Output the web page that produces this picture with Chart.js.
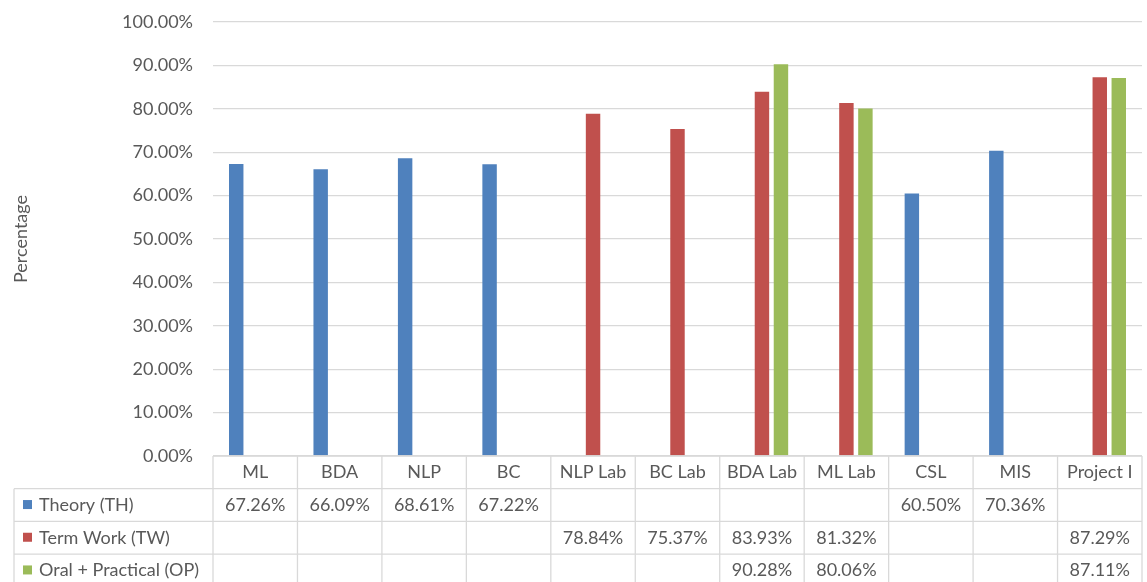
<!DOCTYPE html>
<html>
<head>
<meta charset="utf-8">
<script src="https://cdn.jsdelivr.net/npm/chart.js@4.4.1/dist/chart.umd.min.js"></script>
<style>
    html, body { margin: 0; padding: 0; background: #fff; }
    #wrap { width: 1147px; height: 582px; }
</style>
</head>
<body>
<div id="wrap"><canvas id="chart"></canvas></div>
<script>
const subjects = ["ML", "BDA", "NLP", "BC", "NLP Lab", "BC Lab", "BDA Lab", "ML Lab", "CSL", "MIS", "Project I"];
const theory = [0.6726, 0.6609, 0.6861, 0.6722, null, null, null, null, 0.6050, 0.7036, null];
const termWork = [null, null, null, null, 0.7884, 0.7537, 0.8393, 0.8132, null, null, 0.8729];
const oralPractical = [null, null, null, null, null, null, 0.9028, 0.8006, null, null, 0.8711];
const seriesNames = ["Theory (TH)", "Term Work (TW)", "Oral + Practical (OP)"];
const seriesColors = ["#4F81BD", "#C0504D", "#9BBB59"];

const textColor = "#595959";
const lineColor = "#d9d9d9";
const fontFamily = "Lato, 'Open Sans', sans-serif";
const fontSize = 18;

const fmtPct = (v) => (v * 100).toFixed(2) + "%";

// Excel style data table under the plot area
const dataTablePlugin = {
    id: "dataTable",
    afterDraw(chart) {
        const { ctx, chartArea } = chart;
        const x = chart.scales.x;
        const n = subjects.length;
        const cellW = (chartArea.right - chartArea.left) / n;
        const top = chartArea.bottom;
        const rowH = 32.7;
        const tableLeft = 14;
        const rows = [theory, termWork, oralPractical];

        ctx.save();
        ctx.strokeStyle = lineColor;
        ctx.lineWidth = 1.3;
        const line = (x1, y1, x2, y2) => {
            ctx.beginPath();
            ctx.moveTo(x1, y1);
            ctx.lineTo(x2, y2);
            ctx.stroke();
        };
        line(chartArea.left, top, chartArea.right, top);
        for (let r = 1; r <= 4; r++) {
            line(tableLeft, top + r * rowH, chartArea.right, top + r * rowH);
        }
        for (let i = 0; i <= n; i++) {
            const xp = chartArea.left + i * cellW;
            line(xp, top, xp, top + 4 * rowH);
        }
        line(tableLeft, top + rowH, tableLeft, top + 4 * rowH);

        ctx.font = `${fontSize}px ${fontFamily}`;
        ctx.fillStyle = textColor;
        ctx.textBaseline = "middle";
        ctx.textAlign = "center";
        subjects.forEach((s, i) => {
            ctx.fillText(s, x.getPixelForValue(i), top + rowH / 2);
        });

        rows.forEach((vals, r) => {
            const yc = top + (r + 1.5) * rowH;
            ctx.fillStyle = seriesColors[r];
            ctx.fillRect(23, yc - 5, 9, 9);
            ctx.fillStyle = textColor;
            ctx.textAlign = "left";
            ctx.fillText(seriesNames[r], 39, yc);
            ctx.textAlign = "center";
            vals.forEach((v, i) => {
                if (v !== null) ctx.fillText(fmtPct(v), x.getPixelForValue(i), yc);
            });
        });
        ctx.restore();
    },
};

const datasets = [theory, termWork, oralPractical].map((vals, idx) => ({
    label: seriesNames[idx],
    data: vals,
    backgroundColor: seriesColors[idx],
    categoryPercentage: 0.675,
    barPercentage: 0.76,
}));

new Chart(document.getElementById("chart"), {
    type: "bar",
    data: { labels: subjects, datasets },
    plugins: [dataTablePlugin],
    options: {
        responsive: true,
        maintainAspectRatio: false,
        animation: false,
        layout: { padding: { top: 22, right: 5, bottom: 126, left: 0 } },
        plugins: {
            legend: { display: false },
            tooltip: { enabled: false },
        },
        scales: {
            x: { display: false },
            y: {
                min: 0,
                max: 1,
                afterFit: (scale) => {
                    scale.width = 213;
                    scale.paddingTop = 0;
                    scale.paddingBottom = 0;
                },
                border: { display: false },
                grid: { color: lineColor, lineWidth: 1.3, drawTicks: false },
                ticks: {
                    stepSize: 0.1,
                    padding: 20,
                    color: textColor,
                    font: { family: fontFamily, size: fontSize },
                    callback: (v) => fmtPct(v),
                },
                title: {
                    display: true,
                    text: "Percentage",
                    color: textColor,
                    padding: { top: 10, bottom: 0 },
                    font: { family: fontFamily, size: fontSize },
                },
            },
        },
    },
});
</script>
</body>
</html>
